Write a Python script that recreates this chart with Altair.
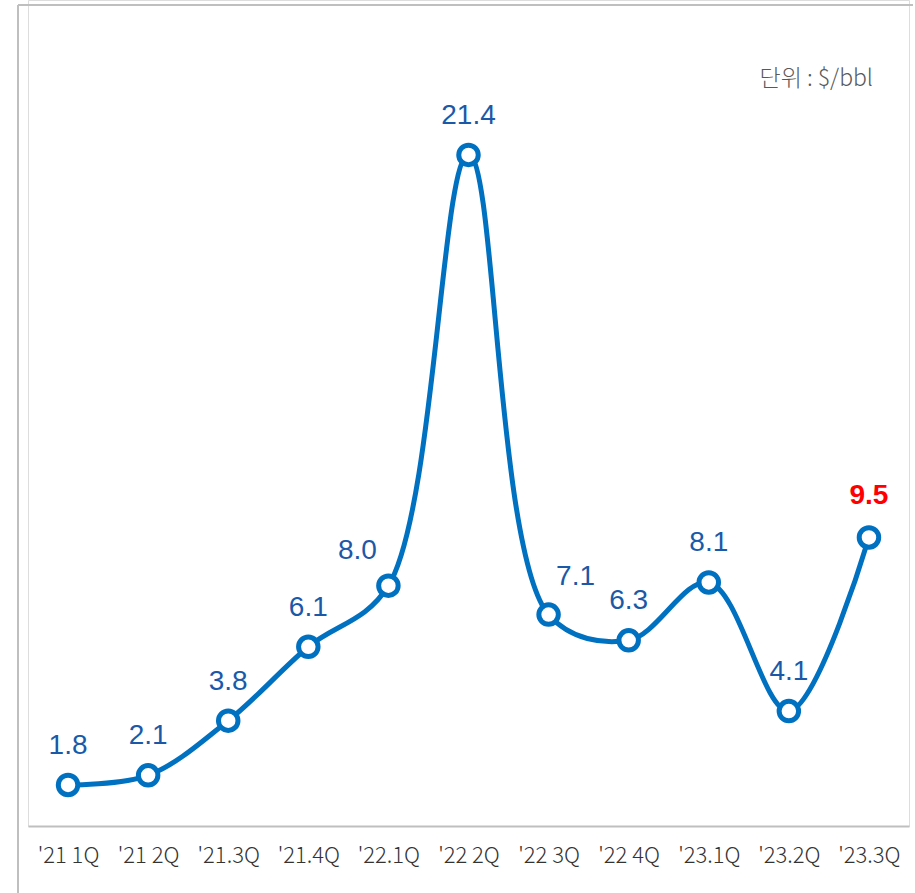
import altair as alt
import pandas as pd

quarters = ["'21 1Q", "'21 2Q", "'21.3Q", "'21.4Q", "'22.1Q", "'22 2Q",
            "'22 3Q", "'22 4Q", "'23.1Q", "'23.2Q", "'23.3Q"]
values = [1.8, 2.1, 3.8, 6.1, 8.0, 21.4, 7.1, 6.3, 8.1, 4.1, 9.5]
label_pos = ["top", "top", "top", "top", "left", "top", "right", "top", "top", "top", "last"]

df = pd.DataFrame({"q": quarters, "v": values, "pos": label_pos,
                   "lbl": [f"{v:.1f}" for v in values]})

BLUE = "#0070C0"
LBL = "#1B59A8"

x = alt.X("q:N", sort=quarters,
          scale=alt.Scale(type="point", padding=0.5),
          axis=alt.Axis(title=None, ticks=False, labelAngle=0, labelPadding=19,
                        labelFontSize=22, labelFont="Noto Sans CJK KR", labelFontWeight=300,
                        labelColor="#333333", domainColor="#BFBFBF", domainWidth=2,
                        grid=False))
y = alt.Y("v:Q", scale=alt.Scale(domain=[0.524, 26.22], nice=False, zero=False), axis=None)

base = alt.Chart(df)

line = base.mark_line(color=BLUE, strokeWidth=5, interpolate="catmull-rom").encode(x=x, y=y)
pts = base.mark_point(shape="circle", filled=True, fill="white", stroke=BLUE,
                      strokeWidth=5, size=380, opacity=1).encode(x=x, y=y)

def lab(pos, **kw):
    return base.transform_filter(alt.datum.pos == pos).mark_text(
        font="Liberation Sans", fontSize=28, baseline="alphabetic", **kw
    ).encode(x=x, y=y, text="lbl:N")

t_top = lab("top", color=LBL, dy=-31)
t_left = lab("left", color=LBL, dy=-27, dx=-31)
t_right = lab("right", color=LBL, dy=-30, dx=27)
t_last = lab("last", color="#FF0000", fontWeight="bold", dy=-33)

unit = alt.Chart(df).mark_text(
    text="단위 : $/bbl", font="Noto Sans CJK KR", fontSize=23, fontWeight=300,
    color="#595959", align="right", baseline="middle"
).encode(x=alt.value(845), y=alt.value(79)).transform_filter(alt.datum.q == quarters[0])

border_top = alt.Chart(df).mark_rule(color="#BFBFBF", strokeWidth=2).encode(
    x=alt.value(-10), x2=alt.value(885), y=alt.value(5)
).transform_filter(alt.datum.q == quarters[0])
border_left = alt.Chart(df).mark_rule(color="#BFBFBF", strokeWidth=2).encode(
    x=alt.value(-10), y=alt.value(5), y2=alt.value(900)
).transform_filter(alt.datum.q == quarters[0])

chart = alt.layer(border_top, border_left, line, pts, t_top, t_left, t_right, t_last, unit).properties(
    width=881, height=826,
    autosize=alt.AutoSizeParams(type="none"),
    padding={"left": 28, "top": 0, "right": 6, "bottom": 67},
).configure_view(stroke=None).configure(background="white")

chart.save("out.html", embed_options={"renderer": "svg", "actions": False})
